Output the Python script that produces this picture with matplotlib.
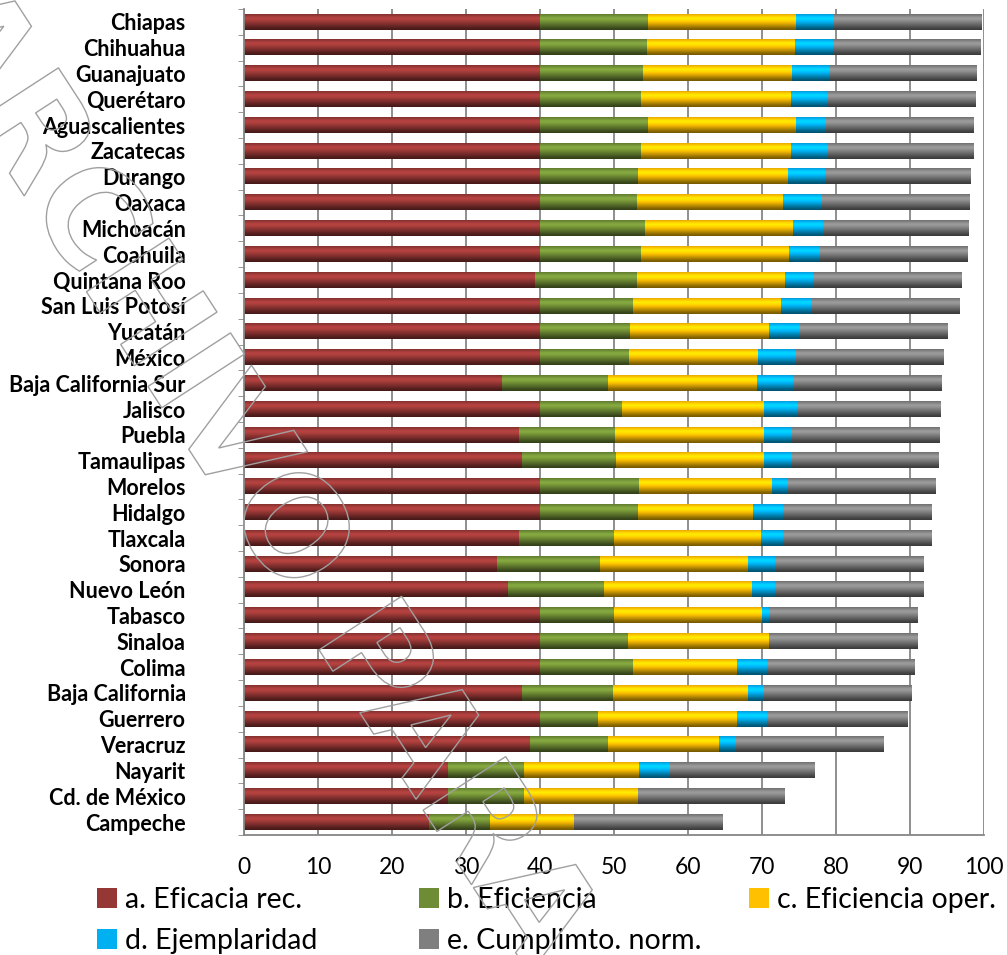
import matplotlib
matplotlib.use("Agg")
import matplotlib.pyplot as plt
import numpy as np
from matplotlib.colors import to_rgb
from matplotlib.textpath import TextPath
from matplotlib.font_manager import FontProperties
from matplotlib.patches import PathPatch
from matplotlib.transforms import Affine2D, IdentityTransform

# States, top to bottom
states = ["Chiapas", "Chihuahua", "Guanajuato", "Querétaro", "Aguascalientes",
          "Zacatecas", "Durango", "Oaxaca", "Michoacán", "Coahuila",
          "Quintana Roo", "San Luis Potosí", "Yucatán", "México",
          "Baja California Sur", "Jalisco", "Puebla", "Tamaulipas", "Morelos",
          "Hidalgo", "Tlaxcala", "Sonora", "Nuevo León", "Tabasco", "Sinaloa",
          "Colima", "Baja California", "Guerrero", "Veracruz", "Nayarit",
          "Cd. de México", "Campeche"]

eficacia = [40.0, 40.0, 40.0, 40.0, 40.0, 40.0, 40.0, 40.0, 40.0, 40.0,
            39.3, 40.0, 40.0, 40.0, 34.8, 40.0, 37.2, 37.5, 40.0, 40.0,
            37.2, 34.2, 35.7, 40.0, 40.0, 40.0, 37.6, 40.0, 38.7, 27.6,
            27.5, 25.0]
eficiencia = [14.6, 14.5, 13.9, 13.7, 14.6, 13.7, 13.3, 13.1, 14.2, 13.7,
              13.8, 12.6, 12.2, 12.0, 14.4, 11.1, 13.0, 12.8, 13.4, 13.2,
              12.8, 13.9, 13.0, 10.0, 11.9, 12.6, 12.3, 7.8, 10.5, 10.3,
              10.4, 8.2]
eficiencia_oper = [20.0, 20.0, 20.1, 20.2, 20.0, 20.2, 20.2, 19.8, 20.0, 20.0,
                   20.0, 20.0, 18.8, 17.5, 20.1, 19.1, 20.1, 20.0, 18.0, 15.6,
                   19.9, 20.0, 20.0, 20.0, 19.0, 14.0, 18.2, 18.8, 15.0, 15.5,
                   15.3, 11.4]
ejemplaridad = [5.1, 5.1, 5.0, 5.0, 4.1, 5.0, 5.0, 5.2, 4.1, 4.1,
                3.8, 4.0, 4.1, 5.1, 5.0, 4.5, 3.7, 3.7, 2.1, 4.0,
                2.9, 3.7, 3.0, 1.0, 0.0, 4.1, 2.1, 4.1, 2.3, 4.1,
                0.0, 0.0]
cumplimiento = [19.9, 19.9, 19.9, 19.9, 19.9, 19.7, 19.6, 19.9, 19.6, 19.9,
                20.0, 20.0, 19.9, 19.9, 19.9, 19.4, 19.9, 19.8, 19.9, 20.0,
                20.0, 20.0, 20.0, 20.0, 20.0, 19.9, 19.9, 19.0, 19.9, 19.5,
                19.8, 20.0]

series = [eficacia, eficiencia, eficiencia_oper, ejemplaridad, cumplimiento]
labels = ["a. Eficacia rec.", "b. Eficiencia", "c. Eficiencia oper.",
          "d. Ejemplaridad", "e. Cumplimto. norm."]
colors = ["#953735", "#6E8B35", "#FFC000", "#00B0F0", "#7F7F7F"]
xticks = [0, 10, 20, 30, 40, 50, 60, 70, 80, 90, 100]

fig = plt.figure(figsize=(10.07, 9.55), dpi=100)
ax = fig.add_axes([0.2423, 0.1257, 0.9772 - 0.2423, 0.9906 - 0.1257])

y = np.arange(len(states))
left = np.zeros(len(states))
handles = []
# shading profile top -> bottom (Excel style gradient)
profile = np.array([0.92, 1.05, 1.18, 1.22, 1.15, 1.05, 0.95, 0.85, 0.75,
                    0.65, 0.55, 0.48])
for vals, col, lab in zip(series, colors, labels):
    bars = ax.barh(y, vals, left=left, height=0.6, color=col, label=lab,
                   zorder=2)
    handles.append(bars)
    base = np.array(to_rgb(col))
    img = np.clip(profile[:, None] * base[None, :], 0, 1)[:, None, :]
    for rect in bars.patches:
        w = rect.get_width()
        if w <= 0:
            continue
        x0, y0, h = rect.get_x(), rect.get_y(), rect.get_height()
        ax.imshow(img, extent=(x0, x0 + w, y0 + h, y0), aspect="auto",
                  interpolation="bilinear", zorder=2.5)
    left = left + np.array(vals)

ax.set_xlim(0, 100)
ax.set_ylim(len(states) - 0.5, -0.5)
ax.set_xticks(xticks)
ax.set_xticklabels([str(t) for t in xticks], family="Lato", fontsize=16.5)
ax.set_yticks(y)
ax.set_yticklabels(states, family="Lato", fontweight="bold", fontsize=15.5)
ax.tick_params(axis="y", length=0, pad=42)
ax.tick_params(axis="x", length=0, pad=16)
ax.set_yticks(np.arange(len(states) + 1) - 0.5, minor=True)
ax.tick_params(axis="y", which="minor", length=4, color="#868686")

ax.grid(axis="x", color="#868686", linewidth=1.3, zorder=1)
ax.set_axisbelow(True)
for s in ["top", "right"]:
    ax.spines[s].set_visible(False)
for s in ["left", "bottom"]:
    ax.spines[s].set_color("#868686")
    ax.spines[s].set_linewidth(1.3)

# legend: Excel style fixed columns, rows a b c / d e
leg_pos = [(97, 900), (419, 900), (749, 900), (97, 941), (419, 941)]
W, H = 1007, 955
for bars, lab, (px, py) in zip(handles, labels, leg_pos):
    fig.legend([bars], [lab], loc="center left",
               bbox_to_anchor=(px / W, 1 - py / H), frameon=False,
               borderpad=0, borderaxespad=0, handlelength=0.7,
               handleheight=0.7, handletextpad=0.3,
               prop=FontProperties(family="Lato", size=20.5))

# watermark outline text
fp = FontProperties(family="DejaVu Sans", weight="bold")
wm = "ARCHIVO PARA"
size = 135
tp = TextPath((0, 0), wm, size=size, prop=fp)
w1 = TextPath((0, 0), "ARCHIVO ", size=size, prop=fp).get_extents().x1
w2 = TextPath((0, 0), "PARA", size=size, prop=fp).get_extents().width
cx, cy = w1 + w2 / 2, size * 0.36
tr = Affine2D().translate(-cx, -cy).rotate_deg(-57).translate(429, H - 730)
fig.add_artist(PathPatch(tp, transform=tr + IdentityTransform(),
                         facecolor="none", edgecolor="#a0a0a0",
                         linewidth=1.0, zorder=10))

fig.savefig("out.png", dpi=100)
